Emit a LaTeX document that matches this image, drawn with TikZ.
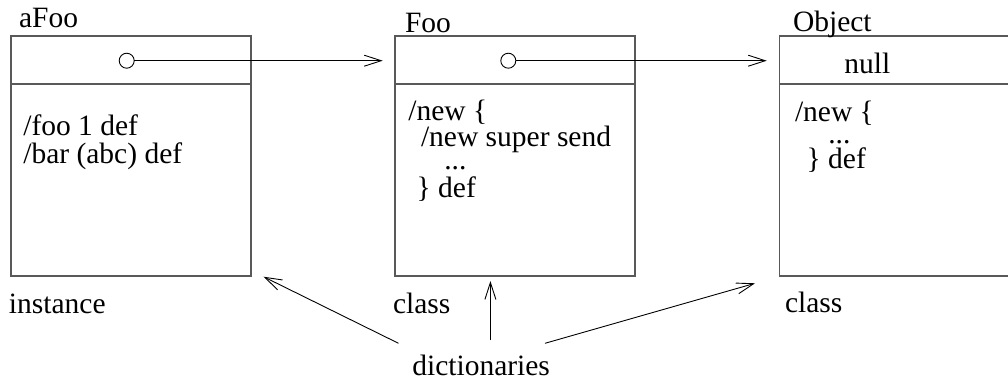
\documentclass[tikz,border=0pt]{standalone}
\usepackage{fontspec}
\setmainfont{Liberation Serif}
\usetikzlibrary{arrows.meta}
\begin{document}
\begin{tikzpicture}[x=1pt,y=-1pt,
  box/.style={draw=black!65, line width=1.3pt, rectangle, minimum width=240pt, minimum height=240pt, anchor=north west, inner sep=0pt, outer sep=0pt},
  divider/.style={draw=black!65, line width=1.3pt},
  txt/.style={anchor=base west, inner sep=0pt, outer sep=0pt, font=\fontsize{29.5}{29.5}\selectfont},
  knob/.style={circle, draw=black, line width=0.9pt, minimum size=15pt, inner sep=0pt, outer sep=0pt},
  arr/.style={draw=black, line width=0.9pt, -{Straight Barb[length=17pt,width=11pt]}},
]
\useasboundingbox (0,0) rectangle (1008,381);
\clip (0,0) rectangle (1008,381);

% boxes
\node[box] (b1) at (11,36) {};
\node[box] (b2) at (395,36) {};
\node[box] (b3) at (779.3,36) {};
\draw[divider] ([yshift=-48pt]b1.north west) -- ([yshift=-48pt]b1.north east);
\draw[divider] ([yshift=-48pt]b2.north west) -- ([yshift=-48pt]b2.north east);
\draw[divider] ([yshift=-48pt]b3.north west) -- ([yshift=-48pt]b3.north east);

% titles
\node[txt] (t1) at (19,27.5) {aFoo};
\node[txt] (t2) at (405,32) {Foo};
\node[txt] (t3) at (793,31) {Object};

% pointers
\node[knob] (k1) at (126.7,60.7) {};
\node[knob] (k2) at (508.3,60.7) {};
\coordinate (p1) at (382.7,60.7);
\coordinate (p2) at (766.7,60.7);
\draw[arr] (k1) -- (p1);
\draw[arr] (k2) -- (p2);
\node[txt] (nl) at (844.3,73.3) {null};

% contents aFoo
\node[txt] (a1) at (23.3,135.3) {/foo 1 def};
\node[txt] (a2) at (23.3,163.5) {/bar (abc) def};

% contents Foo
\node[txt] (f1) at (408.3,120.7) {/new \{};
\node[txt] (f2) at (421,146.7) {/new super send};
\node[txt] (f3) at (444.3,169.5) {...};
\node[txt] (f4) at (416.7,197) {\} def};

% contents Object
\node[txt] (o1) at (795,121.7) {/new \{};
\node[txt] (o2) at (828.3,143) {...};
\node[txt] (o3) at (806.7,168.3) {\} def};

% bottom labels
\node[txt] (l1) at (9,313) {instance};
\node[txt] (l2) at (393,313) {class};
\node[txt] (l3) at (785,312) {class};
\node[txt] (d) at (412.3,375) {dictionaries};

% dictionary arrows
\coordinate (s1) at (398.5,343.3);
\coordinate (s2) at (490.4,340);
\coordinate (s3) at (545,343.3);
\coordinate (e1) at (263.5,276.7);
\coordinate (e2) at (490.4,281);
\coordinate (e3) at (755,283.3);
\draw[arr] (s1) -- (e1);
\draw[arr] (s2) -- (e2);
\draw[arr] (s3) -- (e3);
\end{tikzpicture}
\end{document}
